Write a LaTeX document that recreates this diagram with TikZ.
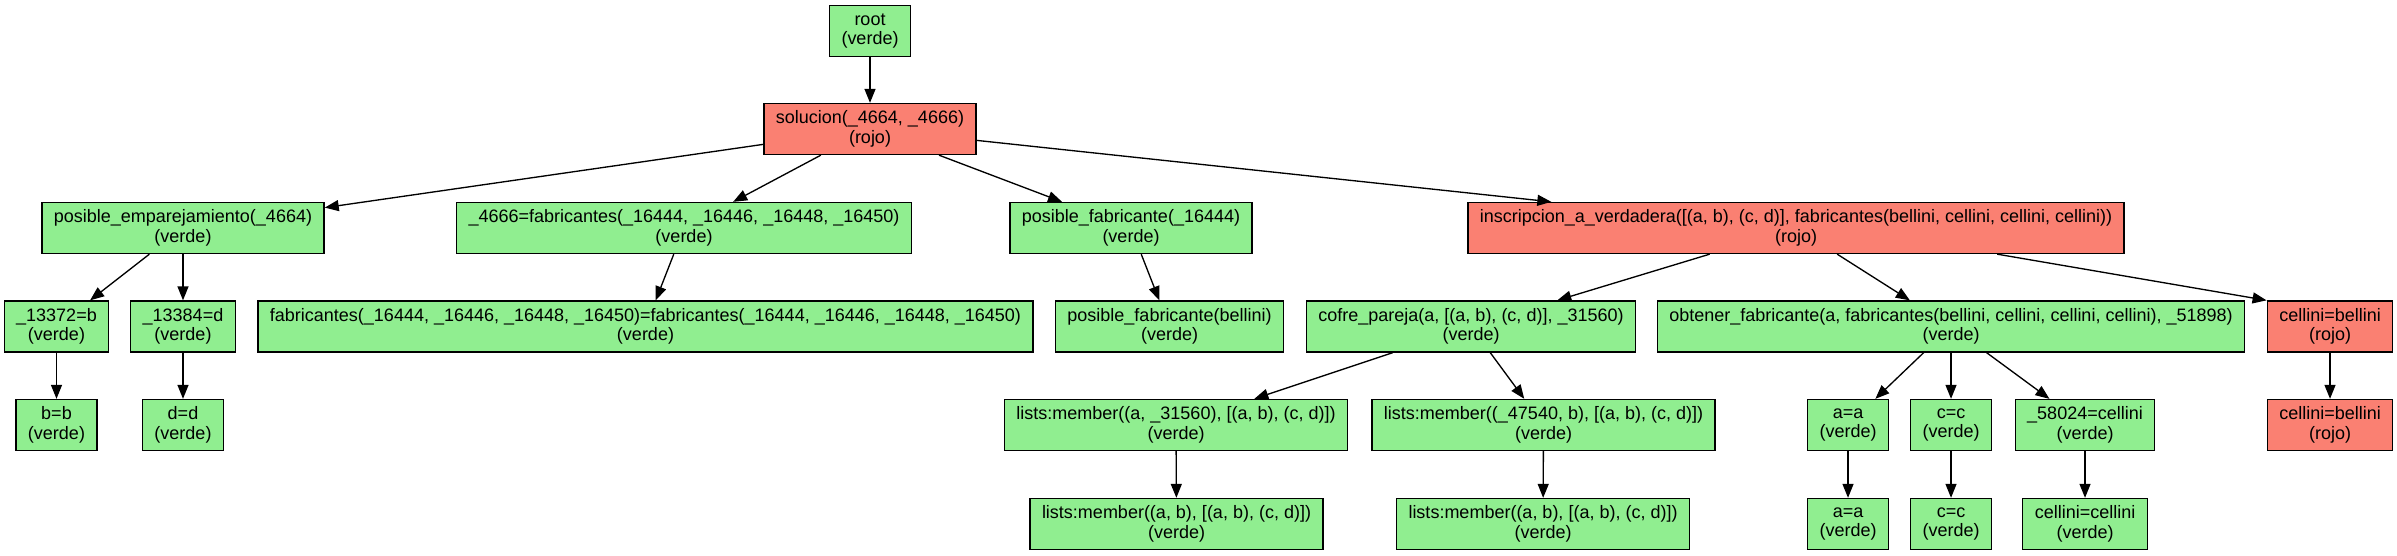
\documentclass[tikz,border=0pt]{standalone}
\usepackage{fontspec}
\setmainfont{Liberation Sans}
\usetikzlibrary{arrows.meta,calc}
\definecolor{verde}{RGB}{144,238,144}
\definecolor{rojo}{RGB}{250,128,114}
\begin{document}
\begin{tikzpicture}[x=0.3pt,y=-0.3pt,
  box/.style={draw=black, line width=0.4pt, rectangle, align=center,
    font=\fontsize{5.4pt}{5.85pt}\selectfont, minimum height=15.3pt,
    minimum width=24pt, inner xsep=3.6pt, inner ysep=0pt},
  ok/.style={box, fill=verde},
  bad/.style={box, fill=rojo},
  edge/.style={-{Triangle[length=4.2pt,width=3.3pt]}, line width=0.4pt}]
\useasboundingbox (0,0) rectangle (2397,555);
% level 1-2
\node[ok] (root) at (870,31) {root\\(verde)};
\node[bad] (sol) at (870,129) {solucion(\_4664, \_4666)\\(rojo)};
% level 3
\node[ok] (pe) at (183,228) {posible\_emparejamiento(\_4664)\\(verde)};
\node[ok] (f4666) at (684,228) {\_4666=fabricantes(\_16444, \_16446, \_16448, \_16450)\\(verde)};
\node[ok] (pf) at (1131,228) {posible\_fabricante(\_16444)\\(verde)};
\node[bad] (insc) at (1796,228) {inscripcion\_a\_verdadera([(a, b), (c, d)], fabricantes(bellini, cellini, cellini, cellini))\\(rojo)};
% level 4
\node[ok] (b1) at (56.5,326.5) {\_13372=b\\(verde)};
\node[ok] (d1) at (183,326.5) {\_13384=d\\(verde)};
\node[ok] (fabeq) at (645.5,326.5) {fabricantes(\_16444, \_16446, \_16448, \_16450)=fabricantes(\_16444, \_16446, \_16448, \_16450)\\(verde)};
\node[ok] (pfb) at (1169.5,326.5) {posible\_fabricante(bellini)\\(verde)};
\node[ok] (cofre) at (1471,326.5) {cofre\_pareja(a, [(a, b), (c, d)], \_31560)\\(verde)};
\node[ok] (obt) at (1951,326.5) {obtener\_fabricante(a, fabricantes(bellini, cellini, cellini, cellini), \_51898)\\(verde)};
\node[bad] (cb1) at (2330,326.5) {cellini=bellini\\(rojo)};
% level 5
\node[ok] (bb) at (56.5,425) {b=b\\(verde)};
\node[ok] (dd) at (183,425) {d=d\\(verde)};
\node[ok] (lm1) at (1176,425) {lists:member((a, \_31560), [(a, b), (c, d)])\\(verde)};
\node[ok] (lm2) at (1543.5,425) {lists:member((\_47540, b), [(a, b), (c, d)])\\(verde)};
\node[ok] (aa1) at (1848,425) {a=a\\(verde)};
\node[ok] (cc1) at (1951,425) {c=c\\(verde)};
\node[ok] (c58) at (2085,425) {\_58024=cellini\\(verde)};
\node[bad] (cb2) at (2330,425) {cellini=bellini\\(rojo)};
% level 6
\node[ok] (lm3) at (1176.5,524) {lists:member((a, b), [(a, b), (c, d)])\\(verde)};
\node[ok] (lm4) at (1543,524) {lists:member((a, b), [(a, b), (c, d)])\\(verde)};
\node[ok] (aa2) at (1848,524) {a=a\\(verde)};
\node[ok] (cc2) at (1951,524) {c=c\\(verde)};
\node[ok] (cc3) at (2085,524) {cellini=cellini\\(verde)};
% edges
\draw[edge] (root) -- (sol);
\draw[edge] (sol) -- (pe);
\draw[edge] (sol) -- (f4666);
\draw[edge] (sol) -- (pf);
\draw[edge] (sol) -- (insc);
\draw[edge] (pe) -- (b1);
\draw[edge] (pe) -- (d1);
\draw[edge] (f4666) -- (fabeq);
\draw[edge] (pf) -- (pfb);
\draw[edge] (insc) -- (cofre);
\draw[edge] (insc) -- (obt);
\draw[edge] ($(insc.south west)!0.806!(insc.south east)$) -- (cb1.north west);
\draw[edge] (b1) -- (bb);
\draw[edge] (d1) -- (dd);
\draw[edge] (cofre) -- (lm1);
\draw[edge] (cofre) -- (lm2);
\draw[edge] (obt) -- (aa1);
\draw[edge] (obt) -- (cc1);
\draw[edge] (obt) -- (c58);
\draw[edge] (cb1) -- (cb2);
\draw[edge] (lm1) -- (lm3);
\draw[edge] (lm2) -- (lm4);
\draw[edge] (aa1) -- (aa2);
\draw[edge] (cc1) -- (cc2);
\draw[edge] (c58) -- (cc3);
\end{tikzpicture}
\end{document}
